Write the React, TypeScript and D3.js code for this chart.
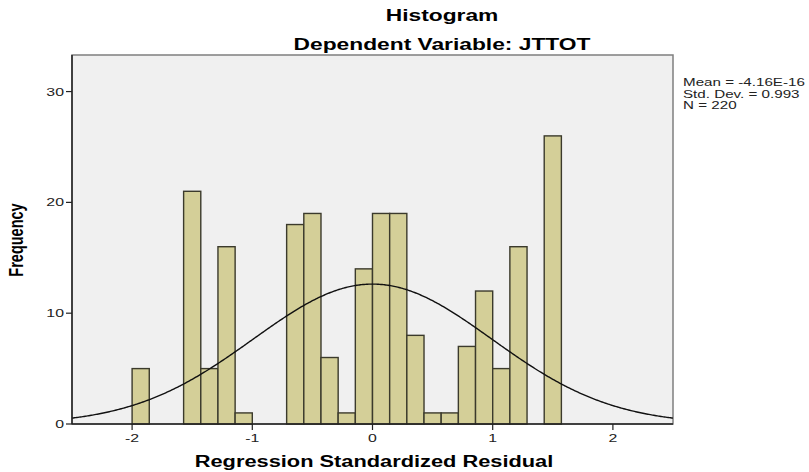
import React from "react";
import * as d3 from "d3";

// Bin edges are multiples of 1/7 (bin index k covers [k/7, (k+1)/7])
const binIndex: number[] = [-14, -11, -10, -9, -8, -5, -4, -3, -2, -1, 0, 1, 2, 3, 4, 5, 6, 7, 8, 10];
const binCounts: number[] = [5, 21, 5, 16, 1, 18, 19, 6, 1, 14, 19, 19, 8, 1, 1, 7, 12, 5, 16, 26];
const binWidth = 1 / 7;
const xTicks: number[] = [-2, -1, 0, 1, 2];
const yTicks: number[] = [0, 10, 20, 30];
const statLines: string[] = ["Mean = -4.16E-16", "Std. Dev. = 0.993", "N = 220"];
const mean = 0;
const sd = 0.993;
const n = 220;

const W = 809;
const H = 472;
const left = 72, right = 673, top = 55, bottom = 424;
const SX = 1.38;
const FONT = "'Liberation Sans', Arial, sans-serif";

export default function App() {
  const x = d3.scaleLinear().domain([-2.5, 2.5]).range([left, right]);
  const y = d3.scaleLinear().domain([0, 33.3]).range([bottom, top]);

  const curvePts = d3.range(0, 501).map((i) => {
    const xv = -2.5 + (5 * i) / 500;
    const dens = Math.exp(-0.5 * ((xv - mean) / sd) ** 2) / (sd * Math.sqrt(2 * Math.PI));
    return [xv, n * binWidth * dens] as [number, number];
  });
  const line = d3.line<[number, number]>().x((d) => x(d[0])).y((d) => y(d[1]));

  const stretched = (tx: number, ty: number, content: string, props: any) => (
    <text transform={`translate(${tx},${ty}) scale(${SX},1)`} {...props}>{content}</text>
  );

  return (
    <svg width={W} height={H} style={{ position: "absolute", left: 0, top: 0, background: "#fff" }} fontFamily={FONT}>
      <rect x={0} y={0} width={W} height={H} fill="#fff" />
      {/* Titles */}
      {stretched(442, 21, "Histogram", { textAnchor: "middle", fontSize: 16.5, fontWeight: "bold", fill: "#000" })}
      {stretched(442, 50, "Dependent Variable: JTTOT", { textAnchor: "middle", fontSize: 16.5, fontWeight: "bold", fill: "#000" })}

      {/* plot background */}
      <rect x={left} y={top} width={right - left} height={bottom - top} fill="#f0f0f0" stroke="#7f7f7f" strokeWidth={1.5} />

      {/* bars */}
      {binIndex.map((k, i) => {
        const x0 = x(k * binWidth);
        const x1 = x((k + 1) * binWidth);
        return (
          <rect key={i} x={x0} y={y(binCounts[i])} width={x1 - x0} height={bottom - y(binCounts[i])}
            fill="#d4cf98" stroke="#3b3a2c" strokeWidth={1.4} />
        );
      })}

      {/* normal curve */}
      <path d={line(curvePts) || ""} fill="none" stroke="#111" strokeWidth={1.4} />

      {/* axes */}
      <line x1={left} x2={left} y1={top} y2={bottom} stroke="#222" strokeWidth={1.5} />
      <line x1={left} x2={right} y1={bottom} y2={bottom} stroke="#222" strokeWidth={1.5} />
      {yTicks.map((t) => (
        <g key={t}>
          <line x1={left - 6} x2={left} y1={y(t)} y2={y(t)} stroke="#222" strokeWidth={1.2} />
          {stretched(left - 8, y(t) + 4, String(t), { textAnchor: "end", fontSize: 11.5, fill: "#222" })}
        </g>
      ))}
      {xTicks.map((t) => (
        <g key={t}>
          <line x1={x(t)} x2={x(t)} y1={bottom} y2={bottom + 6} stroke="#222" strokeWidth={1.2} />
          {stretched(x(t), bottom + 18, String(t), { textAnchor: "middle", fontSize: 11.5, fill: "#222" })}
        </g>
      ))}

      {/* axis titles */}
      {stretched(374, 467, "Regression Standardized Residual", { textAnchor: "middle", fontSize: 15.8, fontWeight: "bold", fill: "#000" })}
      <text transform={`translate(23,240) rotate(-90) scale(1,${SX})`} textAnchor="middle" fontSize={14.5} fontWeight="bold" fill="#000">Frequency</text>

      {/* stats */}
      {statLines.map((s, i) => stretched(683, 86 + i * 11.5, s, { key: i, fontSize: 11, fill: "#222" }))}
    </svg>
  );
}
